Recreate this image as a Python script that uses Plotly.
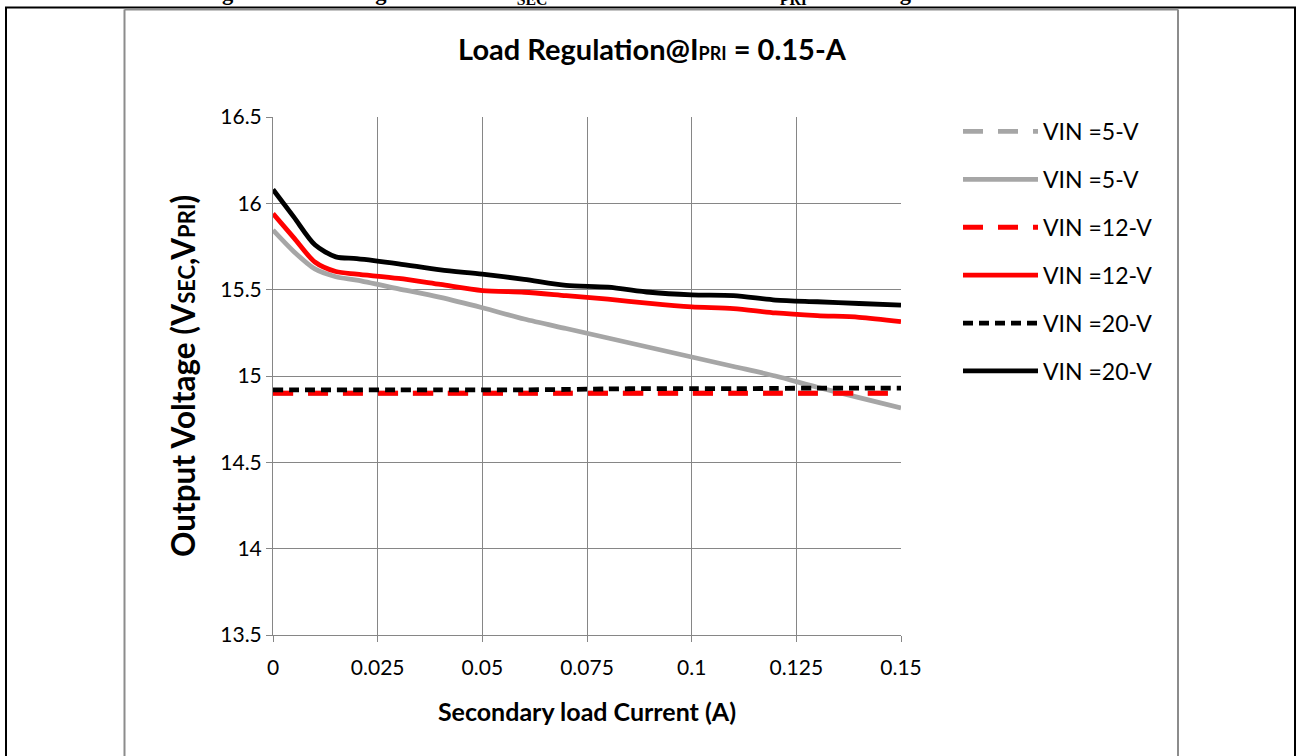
import plotly.graph_objects as go

# ---- data ----
x_load = [0, 0.005, 0.01, 0.015, 0.02, 0.03, 0.04, 0.05, 0.06, 0.07, 0.08,
          0.09, 0.1, 0.11, 0.12, 0.13, 0.14, 0.15]

vin5_dash = [14.90, 14.90, 14.90, 14.90, 14.90, 14.90, 14.90, 14.90, 14.90, 14.90, 14.90,
             14.90, 14.90, 14.90, 14.90, 14.90, 14.90, 14.90]
vin5_solid = [15.845, 15.72, 15.62, 15.575, 15.555, 15.505, 15.455, 15.395, 15.33, 15.275, 15.22,
              15.165, 15.11, 15.055, 15.0, 14.935, 14.875, 14.815]
vin12_dash = [14.90, 14.90, 14.90, 14.90, 14.90, 14.90, 14.90, 14.90, 14.90, 14.90, 14.90,
              14.90, 14.90, 14.90, 14.90, 14.90, 14.90, 14.90]
vin12_solid = [15.94, 15.80, 15.66, 15.605, 15.59, 15.565, 15.53, 15.495, 15.485, 15.465, 15.445,
               15.42, 15.40, 15.39, 15.365, 15.35, 15.34, 15.315]
vin20_dash = [14.92, 14.92, 14.92, 14.92, 14.92, 14.92, 14.92, 14.92, 14.92, 14.922, 14.925,
              14.927, 14.927, 14.927, 14.928, 14.93, 14.93, 14.93]
vin20_solid = [16.08, 15.92, 15.76, 15.69, 15.68, 15.65, 15.615, 15.59, 15.56, 15.525, 15.515,
               15.485, 15.47, 15.465, 15.44, 15.43, 15.42, 15.41]

series_names = ["VIN =5-V", "VIN =5-V", "VIN =12-V", "VIN =12-V", "VIN =20-V", "VIN =20-V"]
series_values = [vin5_dash, vin5_solid, vin12_dash, vin12_solid, vin20_dash, vin20_solid]
series_colors = ["#a6a6a6", "#a6a6a6", "#ff0000", "#ff0000", "#000000", "#000000"]
series_dash = ["20px,15px", "solid", "20px,15px", "solid", "10px,6px", "solid"]

x_ticks = [0, 0.025, 0.05, 0.075, 0.1, 0.125, 0.15]
x_ticklabels = ["0", "0.025", "0.05", "0.075", "0.1", "0.125", "0.15"]
y_ticks = [13.5, 14, 14.5, 15, 15.5, 16, 16.5]
y_ticklabels = ["13.5", "14", "14.5", "15", "15.5", "16", "16.5"]

FONT = "Lato"
GRID = "#868686"

fig = go.Figure()
for i, (name, vals, col, dsh) in enumerate(zip(series_names, series_values, series_colors, series_dash)):
    fig.add_trace(go.Scatter(
        x=x_load, y=vals, name=name, mode="lines",
        line=dict(color=col, width=4.8, dash=dsh, shape="spline", smoothing=0.8),
        legendgroup=f"g{i}",
    ))

# pixel -> paper helpers (plot area 273..901 x, 117..635 y)
L, R, T, B = 273, 901, 117, 635
def px(xp):
    return (xp - L) / (R - L)
def py(yp):
    return (B - yp) / (B - T)

shapes = [
    # outer black border
    dict(type="line", xref="paper", yref="paper", x0=px(6), x1=px(6), y0=py(7.5), y1=py(800),
         line=dict(color="black", width=2)),
    dict(type="line", xref="paper", yref="paper", x0=px(1295), x1=px(1295), y0=py(7.5), y1=py(800),
         line=dict(color="black", width=2)),
    dict(type="line", xref="paper", yref="paper", x0=px(5), x1=px(1296), y0=py(7.5), y1=py(7.5),
         line=dict(color="black", width=2)),
    # chart area gray box
    dict(type="line", xref="paper", yref="paper", x0=px(124.5), x1=px(124.5), y0=py(9.5), y1=py(800),
         line=dict(color="#8c8c8c", width=2)),
    dict(type="line", xref="paper", yref="paper", x0=px(1178), x1=px(1178), y0=py(9.5), y1=py(800),
         line=dict(color="#8c8c8c", width=2)),
    dict(type="line", xref="paper", yref="paper", x0=px(124.5), x1=px(1178), y0=py(9.5), y1=py(9.5),
         line=dict(color="#8c8c8c", width=2)),
]

annotations = [
    dict(xref="paper", yref="paper", x=px(648.5), y=py(-6), xanchor="center", yanchor="middle",
         text="<b>Figure 9. Load Regulation with I<sub>SEC</sub> set at 150mA load and I<sub>PRI</sub> increasing from 0A to 150mA</b>",
         showarrow=False, font=dict(family="Liberation Serif", size=22.5, color="black")),
]

fig.update_layout(
    width=1297, height=756,
    margin=dict(l=L, r=1297 - R, t=T, b=756 - B),
    paper_bgcolor="white", plot_bgcolor="white",
    font=dict(family=FONT, size=20, color="black"),
    title=dict(text="<b>Load Regulation@I<span style='font-size:18px'>PRI</span> = 0.15-A</b>",
               xref="container", x=652 / 1297, xanchor="center",
               yref="container", y=1 - 50 / 756, yanchor="middle",
               font=dict(family=FONT, size=29, color="black")),
    showlegend=True,
    legend=dict(x=px(958), xanchor="left", y=py(110), yanchor="top",
                font=dict(family=FONT, size=23, color="black"),
                itemwidth=75, tracegroupgap=15, bgcolor="rgba(0,0,0,0)",
                traceorder="grouped"),
    shapes=shapes,
    annotations=annotations,
)

fig.update_xaxes(
    range=[0, 0.15], tickvals=x_ticks, ticktext=x_ticklabels,
    showgrid=True, gridcolor=GRID, gridwidth=1,
    showline=True, linecolor=GRID, linewidth=1,
    ticks="outside", ticklen=6, tickcolor=GRID,
    zeroline=False, ticklabelstandoff=8,
    tickfont=dict(family=FONT, size=21),
    title=dict(text="<b>Secondary load Current (A)</b>", font=dict(family=FONT, size=25), standoff=25),
)
fig.update_yaxes(
    range=[13.5, 16.5], tickvals=y_ticks, ticktext=y_ticklabels,
    showgrid=True, gridcolor=GRID, gridwidth=1,
    showline=True, linecolor=GRID, linewidth=1,
    ticks="outside", ticklen=6, tickcolor=GRID,
    zeroline=False,
    tickfont=dict(family=FONT, size=21),
    title=dict(text="<b>Output Voltage (V<span style='font-size:22px'>SEC</span>,V<span style='font-size:22px'>PRI</span>)</b>",
               font=dict(family=FONT, size=31.5), standoff=15),
)

fig.write_html("out.html")
